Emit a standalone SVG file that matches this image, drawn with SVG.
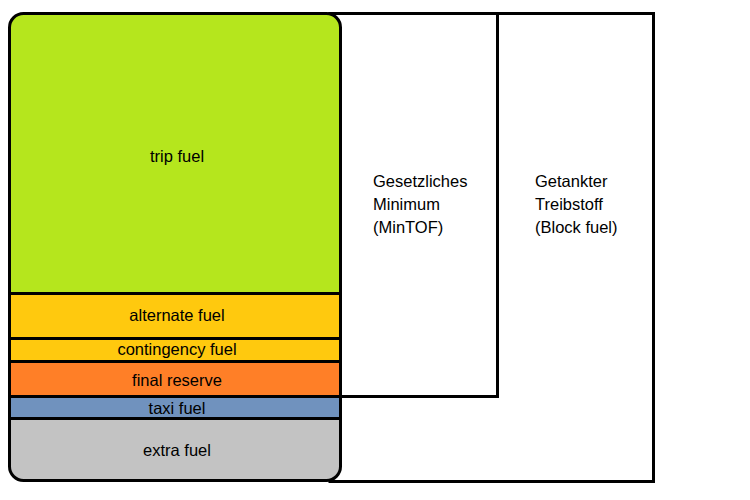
<svg xmlns="http://www.w3.org/2000/svg" width="750" height="500" viewBox="0 0 750 500">
<style>
.b{fill:#fff;stroke:#000;stroke-width:3}
.l{stroke:#000;stroke-width:3}
text{font-family:"Liberation Sans",Arial,sans-serif;font-size:16.5px;fill:#000}
.c{text-anchor:middle}
</style>
<defs>
<clipPath id="cp"><rect x="9.5" y="13.5" width="331" height="467" rx="14"/></clipPath>
</defs>
<g id="block-fuel"><rect class="b" x="330" y="13.5" width="323.5" height="468"/>
<text x="535" y="187">Getankter</text><text x="535" y="210">Treibstoff</text><text x="535" y="233">(Block fuel)</text></g>
<g id="mintof"><rect class="b" x="330" y="13.5" width="167.5" height="383"/>
<text x="373" y="187">Gesetzliches</text><text x="373" y="210">Minimum</text><text x="373" y="233">(MinTOF)</text></g>
<g id="stack">
<g clip-path="url(#cp)">
<rect id="trip" x="9" y="13" width="332" height="281" fill="#b5e61d"/>
<rect id="alternate" x="9" y="293.5" width="332" height="45" fill="#ffc90e"/>
<rect id="contingency" x="9" y="338.5" width="332" height="23" fill="#ffc90e"/>
<rect id="final" x="9" y="361.5" width="332" height="35" fill="#ff7f27"/>
<rect id="taxi" x="9" y="396.5" width="332" height="22" fill="#7092be"/>
<rect id="extra" x="9" y="418.5" width="332" height="63" fill="#c3c3c3"/>
</g>
<g id="dividers">
<line class="l" x1="9.5" y1="293.5" x2="340.5" y2="293.5"/>
<line class="l" x1="9.5" y1="338.5" x2="340.5" y2="338.5"/>
<line class="l" x1="9.5" y1="361.5" x2="340.5" y2="361.5"/>
<line class="l" x1="9.5" y1="396.5" x2="340.5" y2="396.5"/>
<line class="l" x1="9.5" y1="418.5" x2="340.5" y2="418.5"/>
</g>
<rect x="9.5" y="13.5" width="331" height="467" rx="14" fill="none" stroke="#000" stroke-width="3"/>
<text class="c" x="177" y="162">trip fuel</text>
<text class="c" x="177" y="321">alternate fuel</text>
<text class="c" x="177" y="355">contingency fuel</text>
<text class="c" x="177" y="386">final reserve</text>
<text class="c" x="177" y="414">taxi fuel</text>
<text class="c" x="177" y="456">extra fuel</text>
</g>
</svg>
